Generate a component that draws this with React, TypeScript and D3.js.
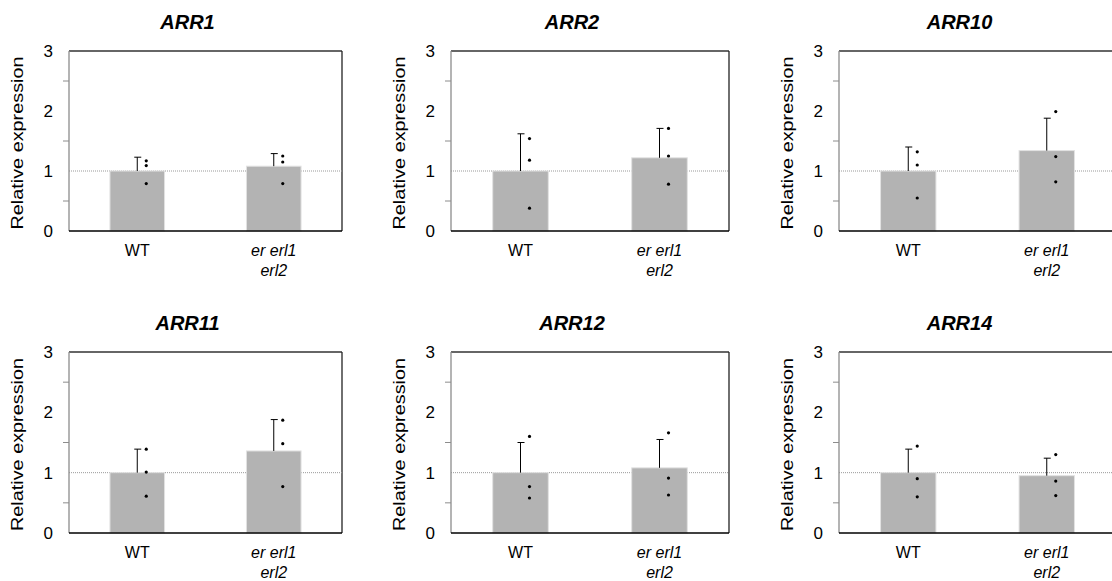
import React from 'react';
import * as d3 from 'd3';

// gene panels, in reading order
const genes = ['ARR1', 'ARR2', 'ARR10', 'ARR11', 'ARR12', 'ARR14'];
const groups = ['WT', 'er erl1 erl2'];
const groupLabels = [['WT'], ['er erl1', 'erl2']];
const yTicks = [0, 1, 2, 3];
const yMinorTicks = [0.5, 1.5, 2.5];

// mean relative expression
const wtMean = [1.0, 1.0, 1.0, 1.0, 1.0, 1.0];
const mutMean = [1.08, 1.22, 1.34, 1.36, 1.08, 0.95];

// SD (upper error bar only)
const wtSd = [0.23, 0.62, 0.4, 0.39, 0.5, 0.39];
const mutSd = [0.21, 0.49, 0.54, 0.52, 0.47, 0.29];

// individual replicates
const wtPoints = [
  [1.17, 1.09, 0.79],
  [1.54, 1.18, 0.38],
  [1.32, 1.1, 0.55],
  [1.39, 1.01, 0.61],
  [1.6, 0.77, 0.58],
  [1.44, 0.9, 0.6],
];
const mutPoints = [
  [1.25, 1.15, 0.79],
  [1.71, 1.25, 0.78],
  [1.99, 1.24, 0.82],
  [1.87, 1.48, 0.77],
  [1.66, 0.91, 0.63],
  [1.3, 0.86, 0.62],
];

// panel grid (pixels)
const colLeft = [69, 451, 839];
const colWidth = [273, 278, 277];
const rowTop = [51, 352];
const rowHeight = [180, 181];

const FONT = '"Liberation Sans", Arial, Helvetica, sans-serif';

function Panel({ idx }: { idx: number }) {
  const col = idx % 3;
  const row = Math.floor(idx / 3);
  const left = colLeft[col];
  const top = rowTop[row];
  const w = colWidth[col];
  const h = rowHeight[row];

  const y = d3.scaleLinear().domain([0, 3]).range([h, 0]);
  const x = d3.scaleBand<string>().domain(groups).range([0, w]).paddingInner(0.6).paddingOuter(0.3);

  const means = [wtMean[idx], mutMean[idx]];
  const sds = [wtSd[idx], mutSd[idx]];
  const pts = [wtPoints[idx], mutPoints[idx]];

  return (
    <g transform={`translate(${left},${top})`}>
      {/* title */}
      <text x={w / 2 - 18} y={-22} textAnchor="middle" fontSize={20} fontWeight="bold"
        fontStyle="italic" fill="#000">{genes[idx]}</text>

      {/* y label */}
      <text transform={`translate(-46,${h / 2 + 2}) rotate(-90)`} textAnchor="middle"
        fontSize={17} textLength={173} lengthAdjust="spacingAndGlyphs" fill="#000">
        Relative expression
      </text>

      {/* frame */}
      <line x1={0} x2={w} y1={0} y2={0} stroke="#333" strokeWidth={1.3} />
      <line x1={w} x2={w} y1={0} y2={h} stroke="#222" strokeWidth={1.3} />

      {/* reference line at 1 */}
      <line x1={0} x2={w} y1={y(1)} y2={y(1)} stroke="#999" strokeWidth={1} strokeDasharray="1,1" />

      {/* bars */}
      {groups.map((g, i) => {
        const bx = x(g) as number;
        const cx = bx + x.bandwidth() / 2;
        const top1 = y(means[i] + sds[i]);
        return (
          <g key={g}>
            <rect x={bx} y={y(means[i])} width={x.bandwidth()} height={h - y(means[i])}
              fill="#b3b3b3" stroke="#e2e2e2" strokeWidth={1} />
            <line x1={cx} x2={cx} y1={y(means[i])} y2={top1} stroke="#000" strokeWidth={1} />
            <line x1={cx - 3} x2={cx + 4} y1={top1} y2={top1} stroke="#000" strokeWidth={1} />
            {pts[i].map((v, j) => (
              <circle key={j} cx={cx + 9} cy={y(v)} r={1.6} fill="#000" />
            ))}
          </g>
        );
      })}

      {/* left axis */}
      <line x1={0} x2={0} y1={0} y2={h} stroke="#8c8c8c" strokeWidth={1.3} />
      {yMinorTicks.map((t) => (
        <line key={t} x1={-6} x2={0} y1={y(t)} y2={y(t)} stroke="#8c8c8c" strokeWidth={1} />
      ))}
      {yTicks.map((t) => (
        <text key={t} x={-16} y={y(t)} dy="0.36em" textAnchor="end" fontSize={17} fill="#000">{t}</text>
      ))}

      {/* bottom axis */}
      <line x1={0} x2={w} y1={h} y2={h} stroke="#000" strokeWidth={1.3} />
      {groups.map((g, i) => {
        const cx = (x(g) as number) + x.bandwidth() / 2;
        return groupLabels[i].map((line, k) => (
          <text key={g + k} x={cx} y={h + 25 + k * 20} textAnchor="middle" fontSize={16}
            fontStyle={i === 1 ? 'italic' : 'normal'} fill="#000">{line}</text>
        ));
      })}
    </g>
  );
}

export default function App() {
  return (
    <svg width={1112} height={581} style={{ position: 'absolute', left: 0, top: 0, background: '#fff' }}
      fontFamily={FONT}>
      <rect width={1112} height={581} fill="#fff" />
      {genes.map((g, i) => (
        <Panel key={g} idx={i} />
      ))}
    </svg>
  );
}
